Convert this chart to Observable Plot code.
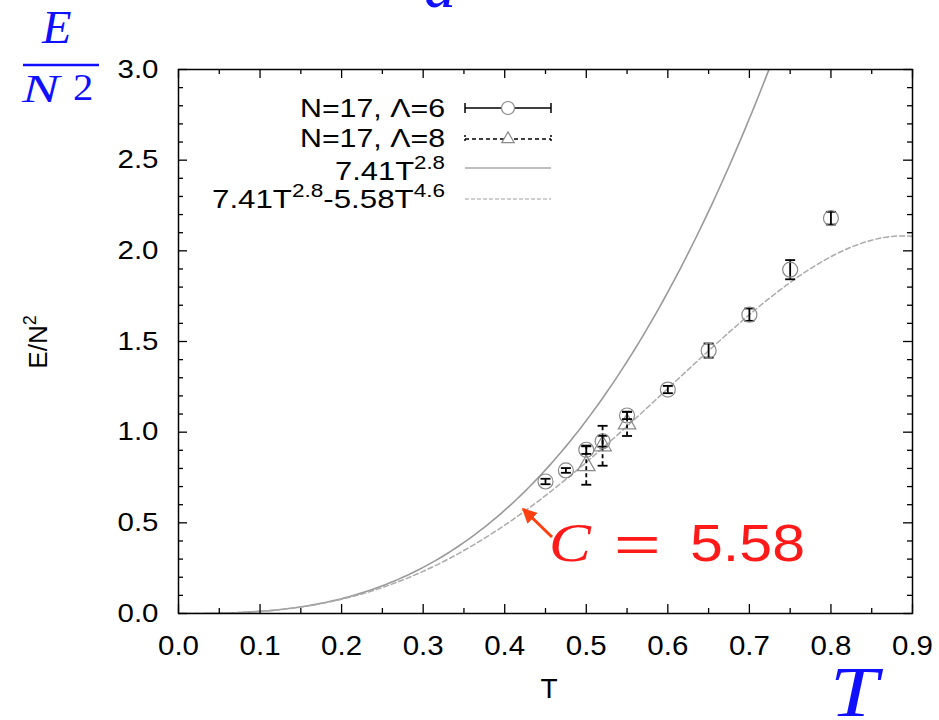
<!DOCTYPE html>
<html><head><meta charset="utf-8">
<script src="https://cdn.jsdelivr.net/npm/d3@7"></script>
<script src="https://cdn.jsdelivr.net/npm/@observablehq/plot@0.6"></script>
<style>body{margin:0;background:#fff}svg{display:block}</style>
</head><body><div id="chart"></div>
<script>
// ---- data ----
const T6 = [0.45, 0.475, 0.5, 0.52, 0.55, 0.6, 0.65, 0.7, 0.75, 0.8];
const E6 = [0.728, 0.789, 0.903, 0.95, 1.092, 1.235, 1.45, 1.648, 1.896, 2.18];
const err6 = [0.015, 0.013, 0.023, 0.03, 0.02, 0.02, 0.039, 0.034, 0.053, 0.035];
const T8 = [0.5, 0.52, 0.55];
const E8 = [0.816, 0.925, 1.046];
const err8 = [0.106, 0.11, 0.067];
// fit curves as printed in the legend: a*T^p and a*T^p - b*T^q
const fitA = 7.41, fitP = 2.8, fitB = 5.58, fitQ = 4.6;
const curveT = d3.range(0, 0.9001, 0.005);
const xMajor = [0, 0.1, 0.2, 0.3, 0.4, 0.5, 0.6, 0.7, 0.8, 0.9];
const xMinor = [0.05, 0.15, 0.25, 0.35, 0.45, 0.55, 0.65, 0.75, 0.85];
const yMajor = [0, 0.5, 1.0, 1.5, 2.0, 2.5, 3.0];
const yMinor = [0.1,0.2,0.3,0.4,0.6,0.7,0.8,0.9,1.1,1.2,1.3,1.4,1.6,1.7,1.8,1.9,2.1,2.2,2.3,2.4,2.6,2.7,2.8,2.9];
const legendLabels = ["N=17, \u039B=6", "N=17, \u039B=8"];

const d6 = T6.map((t, i) => ({T: t, E: E6[i], e: err6[i]}));
const d8 = T8.map((t, i) => ({T: t, E: E8[i], e: err8[i]}));
const caps6 = d6.flatMap(d => [{T: d.T, y: d.E - d.e}, {T: d.T, y: d.E + d.e}]);
const caps8 = d8.flatMap(d => [{T: d.T, y: d.E - d.e}, {T: d.T, y: d.E + d.e}]);
const curve = curveT.map(t => ({T: t, y1: fitA * Math.pow(t, fitP), y2: fitA * Math.pow(t, fitP) - fitB * Math.pow(t, fitQ)}));

const capSymbol = {draw(ctx, size) { const r = Math.sqrt(size / Math.PI); ctx.moveTo(-r, 0); ctx.lineTo(r, 0); }};

const W = 939, H = 720, mL = 178, mR = 27, mT = 69, mB = 107;
const innerH = H - mT - mB, innerW = W - mL - mR;
const majorLen = 9, minorLen = 5;

const chart = Plot.plot({
  width: W, height: H,
  marginLeft: mL, marginRight: mR, marginTop: mT, marginBottom: mB,
  style: {fontFamily: "'Liberation Sans', Arial, sans-serif", fontSize: "26px", color: "black", background: "white"},
  x: {domain: [0, 0.9]},
  y: {domain: [0, 3]},
  marks: [
    Plot.line(curve, {x: "T", y: "y1", stroke: "#9a9a9a", strokeWidth: 1.6, clip: true}),
    Plot.line(curve, {x: "T", y: "y2", stroke: "#ababab", strokeWidth: 1.5, strokeDasharray: "5,3", clip: true}),
    Plot.ruleX(d8, {x: "T", y1: d => d.E - d.e, y2: d => d.E + d.e, stroke: "black", strokeWidth: 1.8, strokeDasharray: "4,3"}),
    Plot.dot(caps8, {x: "T", y: "y", symbol: capSymbol, r: 5, stroke: "black", fill: "none", strokeWidth: 1.8}),
    Plot.dot(d8, {x: "T", y: "E", symbol: "triangle", r: 6.5, stroke: "#8a8a8a", fill: "none", strokeWidth: 1.2}),
    Plot.ruleX(d6, {x: "T", y1: d => d.E - d.e, y2: d => d.E + d.e, stroke: "black", strokeWidth: 1.8}),
    Plot.dot(caps6, {x: "T", y: "y", symbol: capSymbol, r: 5, stroke: "black", fill: "none", strokeWidth: 1.8}),
    Plot.dot(d6, {x: "T", y: "E", r: 7.5, stroke: "#8a8a8a", fill: "none", strokeWidth: 1.2}),
    Plot.tickX(xMajor, {x: d => d, insetTop: innerH - majorLen, stroke: "black", strokeWidth: 1.3}),
    Plot.tickX(xMajor, {x: d => d, insetBottom: innerH - majorLen, stroke: "black", strokeWidth: 1.3}),
    Plot.tickX(xMinor, {x: d => d, insetTop: innerH - minorLen, stroke: "black", strokeWidth: 1.3}),
    Plot.tickX(xMinor, {x: d => d, insetBottom: innerH - minorLen, stroke: "black", strokeWidth: 1.3}),
    Plot.tickY(yMajor, {y: d => d, insetRight: innerW - majorLen, stroke: "black", strokeWidth: 1.3}),
    Plot.tickY(yMajor, {y: d => d, insetLeft: innerW - majorLen, stroke: "black", strokeWidth: 1.3}),
    Plot.tickY(yMinor, {y: d => d, insetRight: innerW - minorLen, stroke: "black", strokeWidth: 1.3}),
    Plot.tickY(yMinor, {y: d => d, insetLeft: innerW - minorLen, stroke: "black", strokeWidth: 1.3}),
    Plot.axisX(xMajor, {tickSize: 0, tickPadding: 22, tickFormat: d3.format(".1f"), label: null, fontSize: 27}),
    Plot.axisY(yMajor, {tickSize: 0, tickPadding: 20, tickFormat: d3.format(".1f"), label: null, fontSize: 26}),
    Plot.frame({stroke: "black", strokeWidth: 1.5})
  ]
});
document.getElementById("chart").appendChild(chart);

const svg = d3.select(chart);
svg.selectAll('g[aria-label="x-axis tick label"] text, g[aria-label="y-axis tick label"] text')
  .attr("textLength", 41).attr("lengthAdjust", "spacingAndGlyphs");

const sans = "'Liberation Sans', Arial, sans-serif";
const serif = "'Liberation Serif', 'Times New Roman', serif";
const g = svg.append("g").attr("text-anchor", "start");

function glyph(x, y, sx, txt, attrs) {
  const t = g.append("text").attr("transform", `translate(${x},${y}) scale(${sx},1)`).text(txt);
  Object.entries(attrs).forEach(([k, v]) => t.attr(k, v));
  return t;
}

// axis titles
g.append("text").attr("x", 549).attr("y", 698).attr("text-anchor", "middle")
  .attr("font-family", sans).attr("font-size", 28).text("T");
const yl = g.append("text").attr("transform", "translate(47,342) rotate(-90)").attr("text-anchor", "middle")
  .attr("font-family", sans).attr("font-size", 26);
yl.append("tspan").text("E/N");
yl.append("tspan").attr("font-size", 18).attr("dy", -11).text("2");

// legend
const lx1 = 465, lx2 = 551, lxm = 508, tx = 445;
const rows = [108, 139, 168, 199];
function legendText(y, parts, len) {
  const t = g.append("text").attr("x", tx).attr("y", y).attr("text-anchor", "end")
    .attr("font-family", sans).attr("font-size", 25).attr("textLength", len).attr("lengthAdjust", "spacingAndGlyphs");
  parts.forEach(p => {
    const s = t.append("tspan").text(p.t);
    if (p.sup) s.attr("font-size", 18).attr("dy", -11);
    if (p.down) s.attr("dy", 11);
  });
}
legendText(117, [{t: legendLabels[0]}], 145);
legendText(147, [{t: legendLabels[1]}], 145);
legendText(180, [{t: "7.41T"}, {t: "2.8", sup: true}], 110);
legendText(208, [{t: "7.41T"}, {t: "2.8", sup: true}, {t: "-5.58T", down: true}, {t: "4.6", sup: true}], 233);

g.append("line").attr("x1", lx1).attr("x2", lx2).attr("y1", rows[0]).attr("y2", rows[0]).attr("stroke", "black").attr("stroke-width", 1.5);
[lx1, lx2].forEach(x => g.append("line").attr("x1", x).attr("x2", x).attr("y1", rows[0] - 5).attr("y2", rows[0] + 5).attr("stroke", "black").attr("stroke-width", 1.5));
g.append("circle").attr("cx", lxm).attr("cy", rows[0]).attr("r", 6.5).attr("fill", "white").attr("stroke", "#8a8a8a").attr("stroke-width", 1.2);
g.append("line").attr("x1", lx1).attr("x2", lx2).attr("y1", rows[1]).attr("y2", rows[1]).attr("stroke", "black").attr("stroke-width", 1.5).attr("stroke-dasharray", "4,3");
[lx1, lx2].forEach(x => g.append("line").attr("x1", x).attr("x2", x).attr("y1", rows[1] - 4).attr("y2", rows[1] + 4).attr("stroke", "black").attr("stroke-width", 1.5).attr("stroke-dasharray", "2,2"));
g.append("path").attr("d", d3.symbol(d3.symbolTriangle2, 110)()).attr("transform", `translate(${lxm},${rows[1]})`)
  .attr("fill", "white").attr("stroke", "#8a8a8a").attr("stroke-width", 1.2);
g.append("line").attr("x1", lx1).attr("x2", lx2).attr("y1", rows[2]).attr("y2", rows[2]).attr("stroke", "#a8a8a8").attr("stroke-width", 1.5);
g.append("line").attr("x1", lx1).attr("x2", lx2).attr("y1", rows[3]).attr("y2", rows[3]).attr("stroke", "#cfcfcf").attr("stroke-width", 1.8).attr("stroke-dasharray", "4,2");

// blue annotations
const blue = "#1010ff";
glyph(42, 43, 1.05, "E", {"font-family": serif, "font-style": "italic", "font-size": 46, fill: blue});
g.append("line").attr("x1", 23).attr("x2", 99).attr("y1", 65).attr("y2", 65).attr("stroke", blue).attr("stroke-width", 2.5);
glyph(22, 102, 1.4, "N", {"font-family": serif, "font-style": "italic", "font-size": 40, fill: blue});
glyph(73, 100, 1.1, "2", {"font-family": serif, "font-size": 37, fill: blue});
g.append("text").attr("x", 424).attr("y", 7).attr("font-family", serif)
  .attr("font-style", "italic").attr("font-size", 64).attr("fill", blue).text("a");
glyph(830, 716, 1.2, "T", {"font-family": serif, "font-style": "italic", "font-size": 72, fill: blue});

// red annotation with arrow
const red = "#ff1a1a";
svg.append("defs").append("marker").attr("id", "ah").attr("viewBox", "0 0 10 10").attr("refX", 9).attr("refY", 5)
  .attr("markerWidth", 5).attr("markerHeight", 5).attr("orient", "auto")
  .append("path").attr("d", "M0,0 L10,5 L0,10 Z").attr("fill", "#ff4010");
g.append("line").attr("x1", 552).attr("y1", 537).attr("x2", 523).attr("y2", 509)
  .attr("stroke", "#ff4010").attr("stroke-width", 3).attr("marker-end", "url(#ah)");
glyph(549, 561, 1.12, "C", {"font-family": serif, "font-style": "italic", "font-size": 56, fill: red});
glyph(614, 561, 1.6, "=", {"font-family": sans, "font-size": 50, fill: red});
g.append("text").attr("x", 690).attr("y", 561).attr("font-family", sans)
  .attr("font-size", 52).attr("fill", red).attr("textLength", 115).attr("lengthAdjust", "spacingAndGlyphs").text("5.58");
</script>
</body></html>
